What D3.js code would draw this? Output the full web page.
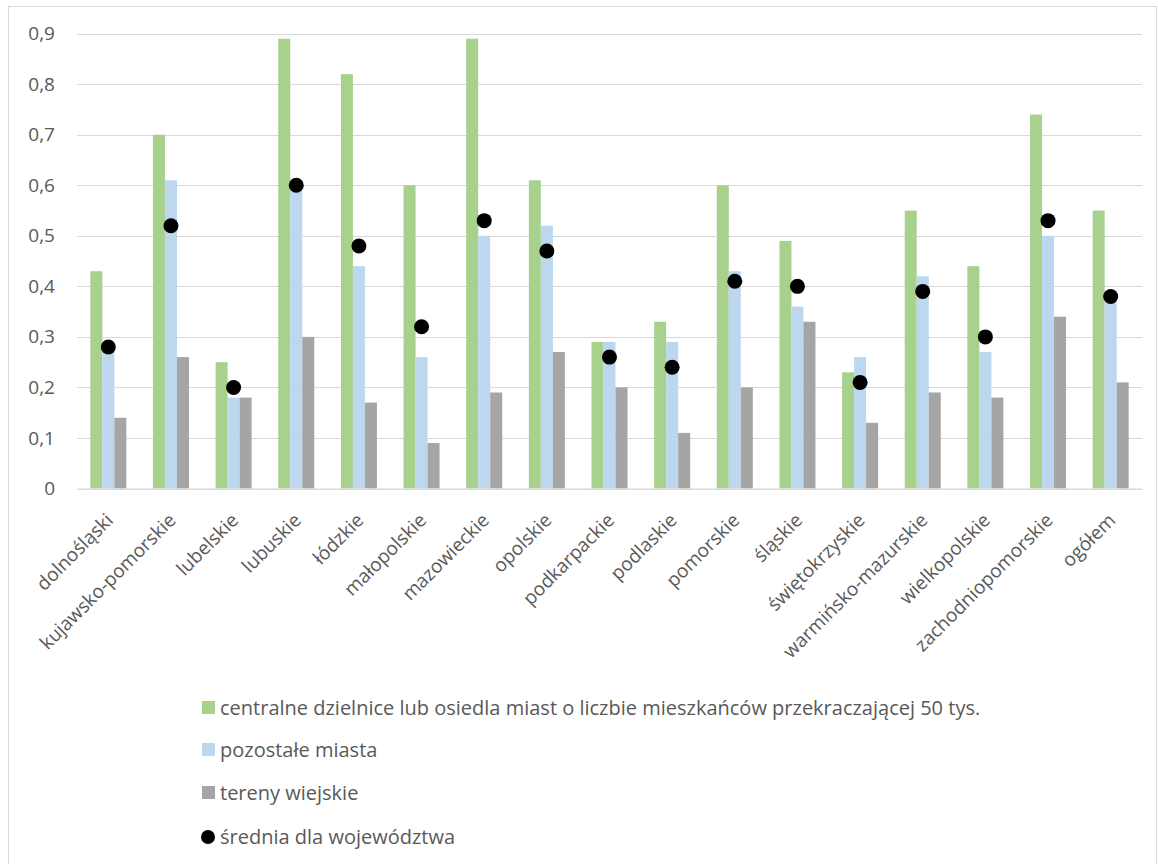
<!DOCTYPE html>
<html><head><meta charset="utf-8">
<script src="https://cdn.jsdelivr.net/npm/d3@7"></script>
<style>body{margin:0;background:#fff}svg{display:block}text{font-family:"Open Sans",sans-serif;fill:#595959}</style>
</head><body><svg id="c" width="1158" height="864"></svg>
<script>
const categories = ["dolnośląski","kujawsko-pomorskie","lubelskie","lubuskie","łódzkie","małopolskie","mazowieckie","opolskie","podkarpackie","podlaskie","pomorskie","śląskie","świętokrzyskie","warmińsko-mazurskie","wielkopolskie","zachodniopomorskie","ogółem"];
const seriesNames = ["centralne dzielnice lub osiedla miast o liczbie mieszkańców przekraczającej 50 tys.","pozostałe miasta","tereny wiejskie","średnia dla województwa"];
const centralne = [0.43,0.70,0.25,0.89,0.82,0.60,0.89,0.61,0.29,0.33,0.60,0.49,0.23,0.55,0.44,0.74,0.55];
const pozostale = [0.28,0.61,0.18,0.60,0.44,0.26,0.50,0.52,0.29,0.29,0.43,0.36,0.26,0.42,0.27,0.50,0.37];
const wiejskie  = [0.14,0.26,0.18,0.30,0.17,0.09,0.19,0.27,0.20,0.11,0.20,0.33,0.13,0.19,0.18,0.34,0.21];
const srednia   = [0.28,0.52,0.20,0.60,0.48,0.32,0.53,0.47,0.26,0.24,0.41,0.40,0.21,0.39,0.30,0.53,0.38];
const yTicks = [0,0.1,0.2,0.3,0.4,0.5,0.6,0.7,0.8,0.9];
const colors = ["#A9D18E","#BDD7EE","#A5A5A5","#000000"];

const svg = d3.select("#c");
svg.append("rect").attr("x",8.5).attr("y",6.5).attr("width",1148).attr("height",880).attr("fill","none").attr("stroke","#D9D9D9");

const pLeft=77, pRight=1142, pTop=33.7, pBottom=488.5;
const x = d3.scaleBand().domain(categories).range([pLeft,pRight]).paddingInner(0.425).paddingOuter(0.2125);
const y = d3.scaleLinear().domain([0,0.9]).range([pBottom,pTop]);
const xs = d3.scaleBand().domain([0,1,2]).range([0,x.bandwidth()]);

// grid
svg.append("g").selectAll("line").data(yTicks).join("line")
  .attr("x1",pLeft).attr("x2",pRight).attr("y1",d=>Math.round(y(d))+0.5).attr("y2",d=>Math.round(y(d))+0.5)
  .attr("stroke","#D9D9D9").attr("stroke-width",1.2);

// y labels
const ya = svg.append("g").attr("transform",`translate(55,0)`)
  .call(d3.axisLeft(y).tickValues(yTicks).tickSize(0).tickPadding(0).tickFormat(d=>d===0?"0":d3.format(".1f")(d).replace(".",",")));
ya.select(".domain").remove();
ya.selectAll("text").style("font-size","19px").attr("fill","#595959").style("font-family","'Open Sans',sans-serif");

// bars
const allSeries=[centralne,pozostale,wiejskie];
allSeries.forEach((s,si)=>{
  svg.append("g").selectAll("rect").data(s).join("rect")
    .attr("x",(d,i)=>x(categories[i])+xs(si)).attr("width",xs.bandwidth())
    .attr("y",d=>y(d)).attr("height",d=>y(0)-y(d)).attr("fill",colors[si]);
});
// dots
svg.append("g").selectAll("circle").data(srednia).join("circle")
  .attr("cx",(d,i)=>x(categories[i])+x.bandwidth()/2).attr("cy",d=>y(d)).attr("r",7.5).attr("fill","#000");

// x labels
const xa = svg.append("g").attr("transform",`translate(0,${pBottom})`)
  .call(d3.axisBottom(x).tickSize(0).tickPadding(0));
xa.select(".domain").attr("stroke","#D9D9D9").attr("stroke-width",1.2);
xa.selectAll("text").style("font-size","19px").attr("fill","#595959").style("font-family","'Open Sans',sans-serif")
  .attr("text-anchor","end").attr("dy",0).attr("y",0)
  .attr("transform","translate(6,33) rotate(-45)");

// legend
const lg = svg.append("g");
const ly=[708,750,793,837];
seriesNames.forEach((n,i)=>{
  if(i<3) lg.append("rect").attr("x",202).attr("y",ly[i]-7).attr("width",13).attr("height",13).attr("fill",colors[i]);
  else lg.append("circle").attr("cx",208).attr("cy",ly[i]).attr("r",7).attr("fill","#000");
  lg.append("text").attr("x",220).attr("y",ly[i]).attr("dy","0.35em").style("font-size","20px").text(n);
});
</script></body></html>
